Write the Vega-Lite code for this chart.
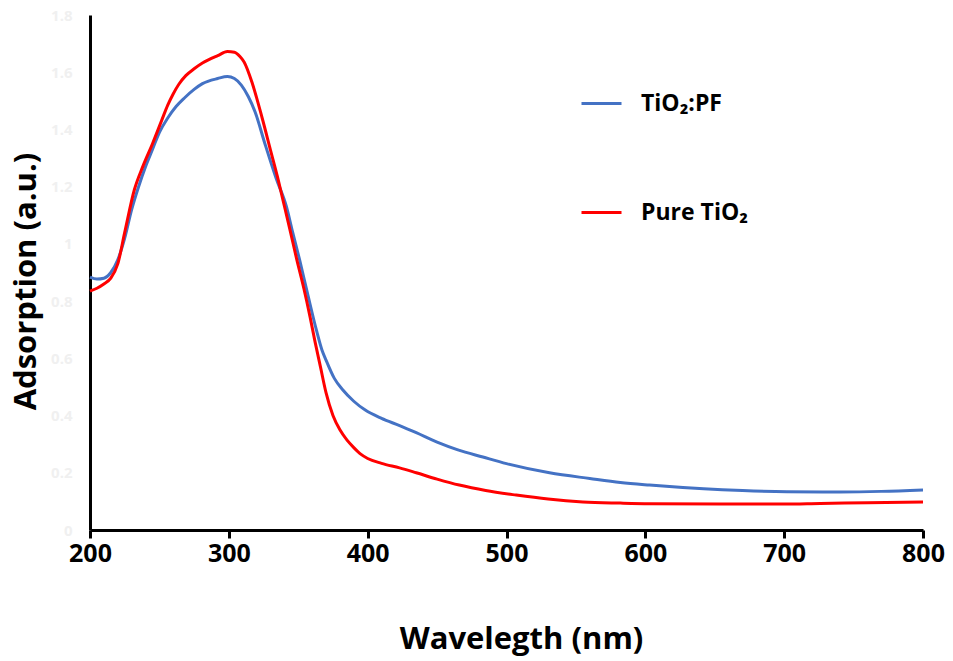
{
  "$schema": "https://vega.github.io/schema/vega-lite/v6.json",
  "width": 833,
  "height": 515,
  "autosize": {"type": "none"},
  "padding": {"left": 90, "top": 15, "right": 30, "bottom": 131},
  "background": "white",
  "config": {"view": {"stroke": null}, "font": "Open Sans"},
  "data": {"values": [
    {"s":"TiO₂:PF","w":200,"a":0.884},{"s":"TiO₂:PF","w":205,"a":0.877},{"s":"TiO₂:PF","w":210,"a":0.88},{"s":"TiO₂:PF","w":215,"a":0.9},{"s":"TiO₂:PF","w":220,"a":0.944},{"s":"TiO₂:PF","w":225,"a":1.02},{"s":"TiO₂:PF","w":230,"a":1.12},{"s":"TiO₂:PF","w":235,"a":1.2},{"s":"TiO₂:PF","w":240,"a":1.27},{"s":"TiO₂:PF","w":245,"a":1.33},{"s":"TiO₂:PF","w":250,"a":1.39},{"s":"TiO₂:PF","w":256,"a":1.44},{"s":"TiO₂:PF","w":262,"a":1.48},{"s":"TiO₂:PF","w":268,"a":1.51},{"s":"TiO₂:PF","w":275,"a":1.54},{"s":"TiO₂:PF","w":281,"a":1.56},{"s":"TiO₂:PF","w":292,"a":1.578},{"s":"TiO₂:PF","w":299,"a":1.585},{"s":"TiO₂:PF","w":304,"a":1.578},{"s":"TiO₂:PF","w":309,"a":1.555},{"s":"TiO₂:PF","w":314,"a":1.515},{"s":"TiO₂:PF","w":319,"a":1.46},{"s":"TiO₂:PF","w":326,"a":1.35},{"s":"TiO₂:PF","w":334,"a":1.23},{"s":"TiO₂:PF","w":341.5,"a":1.13},{"s":"TiO₂:PF","w":346,"a":1.04},{"s":"TiO₂:PF","w":351,"a":0.944},{"s":"TiO₂:PF","w":357,"a":0.82},{"s":"TiO₂:PF","w":363,"a":0.7},{"s":"TiO₂:PF","w":367,"a":0.63},{"s":"TiO₂:PF","w":370,"a":0.594},{"s":"TiO₂:PF","w":376,"a":0.53},{"s":"TiO₂:PF","w":382,"a":0.49},{"s":"TiO₂:PF","w":390,"a":0.45},{"s":"TiO₂:PF","w":398,"a":0.42},{"s":"TiO₂:PF","w":410,"a":0.39},{"s":"TiO₂:PF","w":423,"a":0.365},{"s":"TiO₂:PF","w":435,"a":0.34},{"s":"TiO₂:PF","w":450,"a":0.307},{"s":"TiO₂:PF","w":465,"a":0.28},{"s":"TiO₂:PF","w":483,"a":0.255},{"s":"TiO₂:PF","w":500,"a":0.232},{"s":"TiO₂:PF","w":531,"a":0.2},{"s":"TiO₂:PF","w":560,"a":0.18},{"s":"TiO₂:PF","w":582,"a":0.166},{"s":"TiO₂:PF","w":603,"a":0.157},{"s":"TiO₂:PF","w":642,"a":0.144},{"s":"TiO₂:PF","w":670,"a":0.138},{"s":"TiO₂:PF","w":702,"a":0.134},{"s":"TiO₂:PF","w":740,"a":0.133},{"s":"TiO₂:PF","w":770,"a":0.135},{"s":"TiO₂:PF","w":800,"a":0.14},
    {"s":"Pure TiO₂","w":200,"a":0.835},{"s":"Pure TiO₂","w":205,"a":0.845},{"s":"Pure TiO₂","w":210,"a":0.86},{"s":"Pure TiO₂","w":215,"a":0.88},{"s":"Pure TiO₂","w":220,"a":0.93},{"s":"Pure TiO₂","w":225,"a":1.04},{"s":"Pure TiO₂","w":232,"a":1.19},{"s":"Pure TiO₂","w":238,"a":1.27},{"s":"Pure TiO₂","w":245,"a":1.35},{"s":"Pure TiO₂","w":251.5,"a":1.43},{"s":"Pure TiO₂","w":256,"a":1.485},{"s":"Pure TiO₂","w":260,"a":1.525},{"s":"Pure TiO₂","w":264,"a":1.558},{"s":"Pure TiO₂","w":269,"a":1.588},{"s":"Pure TiO₂","w":275,"a":1.612},{"s":"Pure TiO₂","w":281,"a":1.632},{"s":"Pure TiO₂","w":292,"a":1.658},{"s":"Pure TiO₂","w":299,"a":1.672},{"s":"Pure TiO₂","w":304,"a":1.67},{"s":"Pure TiO₂","w":308,"a":1.655},{"s":"Pure TiO₂","w":311,"a":1.636},{"s":"Pure TiO₂","w":317,"a":1.56},{"s":"Pure TiO₂","w":324,"a":1.44},{"s":"Pure TiO₂","w":330,"a":1.328},{"s":"Pure TiO₂","w":335,"a":1.235},{"s":"Pure TiO₂","w":339,"a":1.153},{"s":"Pure TiO₂","w":344,"a":1.05},{"s":"Pure TiO₂","w":349,"a":0.944},{"s":"Pure TiO₂","w":354,"a":0.845},{"s":"Pure TiO₂","w":358.5,"a":0.745},{"s":"Pure TiO₂","w":362,"a":0.66},{"s":"Pure TiO₂","w":366,"a":0.57},{"s":"Pure TiO₂","w":370,"a":0.48},{"s":"Pure TiO₂","w":375,"a":0.4},{"s":"Pure TiO₂","w":380,"a":0.35},{"s":"Pure TiO₂","w":385,"a":0.315},{"s":"Pure TiO₂","w":390,"a":0.288},{"s":"Pure TiO₂","w":395,"a":0.265},{"s":"Pure TiO₂","w":400,"a":0.25},{"s":"Pure TiO₂","w":410,"a":0.233},{"s":"Pure TiO₂","w":423,"a":0.217},{"s":"Pure TiO₂","w":435,"a":0.2},{"s":"Pure TiO₂","w":450,"a":0.178},{"s":"Pure TiO₂","w":466,"a":0.157},{"s":"Pure TiO₂","w":485,"a":0.138},{"s":"Pure TiO₂","w":507,"a":0.122},{"s":"Pure TiO₂","w":530,"a":0.108},{"s":"Pure TiO₂","w":555,"a":0.098},{"s":"Pure TiO₂","w":582,"a":0.094},{"s":"Pure TiO₂","w":603,"a":0.092},{"s":"Pure TiO₂","w":654,"a":0.091},{"s":"Pure TiO₂","w":700,"a":0.091},{"s":"Pure TiO₂","w":726,"a":0.093},{"s":"Pure TiO₂","w":760,"a":0.095},{"s":"Pure TiO₂","w":800,"a":0.098}
  ]},
  "mark": {"type": "line", "strokeWidth": 3, "interpolate": "monotone"},
  "encoding": {
    "x": {"field": "w", "type": "quantitative",
      "scale": {"domain": [200, 800], "nice": false, "zero": false},
      "axis": {"values": [200,300,400,500,600,700,800], "title": "Wavelegth (nm)", "grid": false, "labelFlush": false,
        "domainColor": "black", "domainWidth": 3, "tickColor": "black", "tickWidth": 3, "tickSize": 8,
        "labelFontSize": 25, "labelFontWeight": "bold", "labelColor": "black", "labelPadding": 3,
        "titleFontSize": 31, "titleFontWeight": "bold", "titleColor": "black", "titlePadding": 58, "titleX": 431}},
    "y": {"field": "a", "type": "quantitative",
      "scale": {"domain": [0, 1.8], "nice": false},
      "axis": {"values": [0,0.2,0.4,0.6,0.8,1,1.2,1.4,1.6,1.8], "format": "~g", "title": "Adsorption (a.u.)", "grid": false, "labelFlush": false,
        "domainColor": "black", "domainWidth": 3, "ticks": false,
        "labelFontSize": 15, "labelFontWeight": "bold", "labelColor": "#f0f0f0", "labelPadding": 18,
        "titleFontSize": 31, "titleFontWeight": "bold", "titleColor": "black", "titlePadding": 8, "titleY": 266}},
    "color": {"field": "s", "type": "nominal",
      "scale": {"domain": ["TiO₂:PF", "Pure TiO₂"], "range": ["#4472C4", "#FF0000"]},
      "legend": {"orient": "none", "legendX": 490, "legendY": 67, "title": null,
        "symbolType": "stroke", "symbolSize": 1600, "symbolStrokeWidth": 3,
        "labelFontSize": 23, "labelFontWeight": "bold", "labelColor": "black", "labelOffset": 18,
        "rowPadding": 75}}
  }
}
